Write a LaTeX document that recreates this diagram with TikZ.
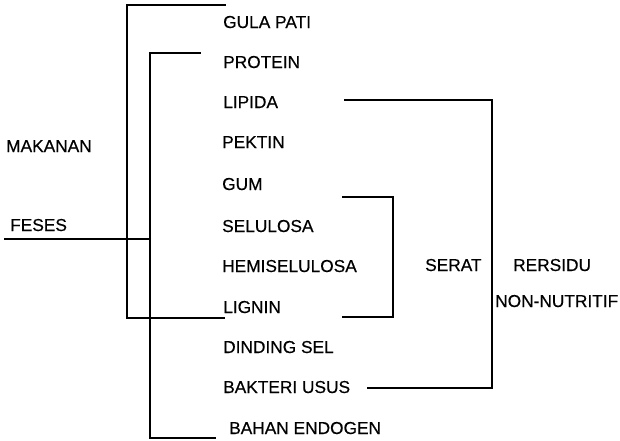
\documentclass[tikz,border=0pt]{standalone}
\usepackage{fontspec}
\setmainfont{Liberation Sans}
\newfontfamily\lblfont{Liberation Sans}[FakeBold=0.4]
\begin{document}
\begin{tikzpicture}[x=1pt,y=-1pt,
  lbl/.style={anchor=base west,inner sep=0pt,font=\lblfont\fontsize{17.3}{20}\selectfont},
  wire/.style={line width=2pt,line join=miter,line cap=rect}]
\useasboundingbox (0,0) rectangle (620,440);
% left labels
\node[lbl] (makanan) at (6,152) {MAKANAN};
\node[lbl] (feses) at (10,231) {FESES};
% list
\node[lbl] (gula) at (223,28) {GULA PATI};
\node[lbl] (protein) at (223,68) {PROTEIN};
\node[lbl] (lipida) at (223,108) {LIPIDA};
\node[lbl] (pektin) at (222,148) {PEKTIN};
\node[lbl] (gum) at (222,190) {GUM};
\node[lbl] (selulosa) at (222,232) {SELULOSA};
\node[lbl] (hemi) at (222,272) {HEMISELULOSA};
\node[lbl] (lignin) at (223,313) {LIGNIN};
\node[lbl] (dinding) at (223,353) {DINDING SEL};
\node[lbl] (bakteri) at (223,393) {BAKTERI USUS};
\node[lbl] (bahan) at (229,434) {BAHAN ENDOGEN};
% right labels
\node[lbl] (serat) at (425,271) {SERAT};
\node[lbl] (rersidu) at (513,271) {RERSIDU};
\node[lbl] (nonnut) at (495,307) {NON-NUTRITIF};
% bracket coordinates
\coordinate (mA) at (225,5);
\coordinate (mB) at (127,5);
\coordinate (mC) at (127,318);
\coordinate (mD) at (224,318);
\coordinate (fA) at (200,53);
\coordinate (fB) at (150,53);
\coordinate (fC) at (150,438);
\coordinate (fD) at (215,438);
\coordinate (fL) at (5,239);
\coordinate (fR) at (150,239);
\coordinate (rA) at (345,100);
\coordinate (rB) at (492,100);
\coordinate (rC) at (492,388);
\coordinate (rD) at (368,388);
\coordinate (sA) at (343,197);
\coordinate (sB) at (393,197);
\coordinate (sC) at (393,317);
\coordinate (sD) at (343,317);
% brackets
\draw[wire] (mA) -- (mB) -- (mC) -- (mD);
\draw[wire] (fA) -- (fB) -- (fC) -- (fD);
\draw[wire] (fL) -- (fR);
\draw[wire] (rA) -- (rB) -- (rC) -- (rD);
\draw[wire] (sA) -- (sB) -- (sC) -- (sD);
\end{tikzpicture}
\end{document}
